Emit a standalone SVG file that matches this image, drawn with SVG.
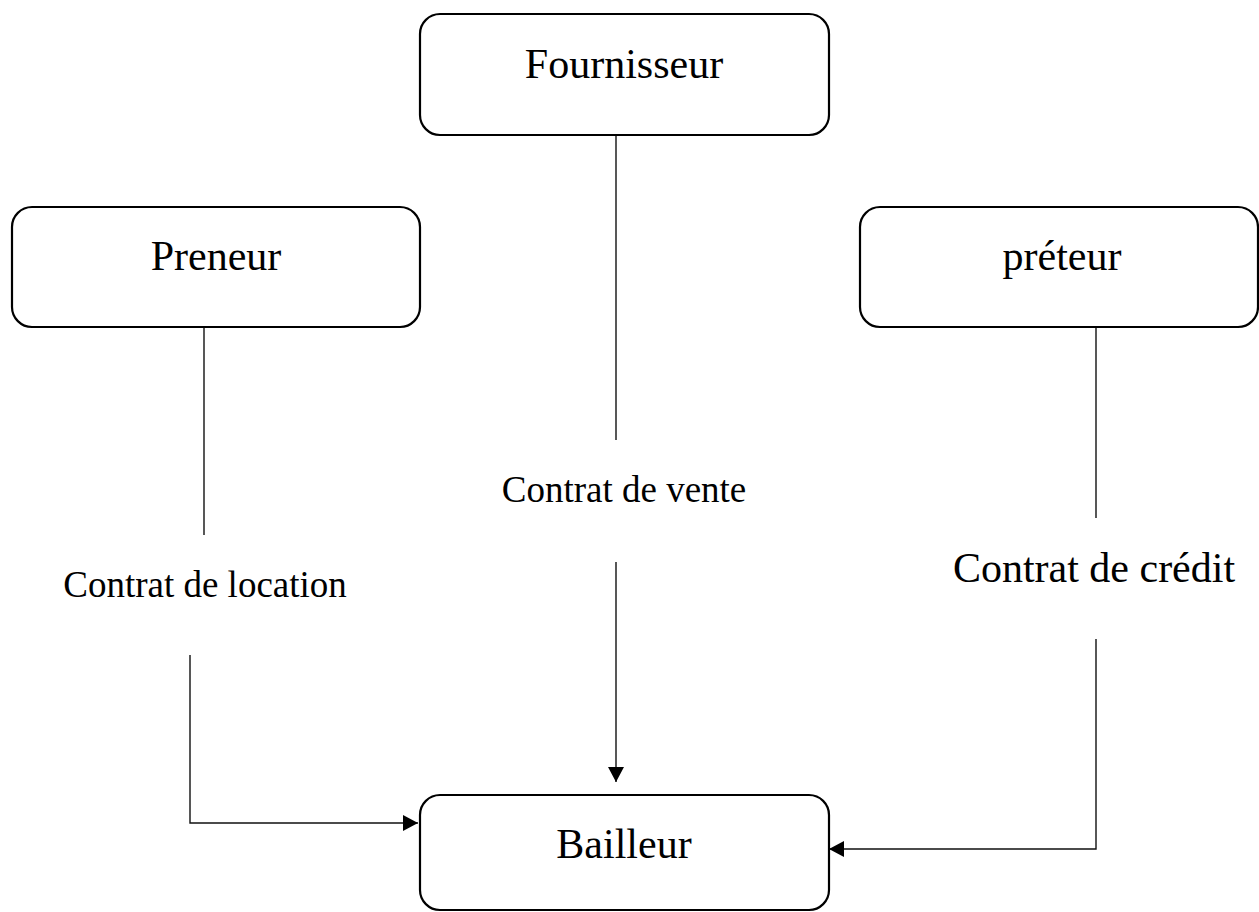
<svg xmlns="http://www.w3.org/2000/svg" width="1259" height="912" viewBox="0 0 1259 912">
  <style>
    .box { fill: #ffffff; stroke: #000000; stroke-width: 2.2; }
    .lbl { font-family: "Liberation Serif", "Times New Roman", serif; fill: #000000; text-anchor: middle; }
    .big { font-size: 42px; }
    .small { font-size: 37px; }
    .wire { fill: none; stroke: #111111; stroke-width: 1.4; }
  </style>
  <defs>
    <marker id="arrow" markerUnits="userSpaceOnUse" markerWidth="16" markerHeight="16" refX="15" refY="8" orient="auto">
      <path d="M0,0 L15,8 L0,16 Z" fill="#000000"/>
    </marker>
  </defs>

  <rect width="1259" height="912" fill="#ffffff"/>

  <!-- connectors -->
  <g id="connectors">
    <line class="wire" x1="616" y1="135" x2="616" y2="440"/>
    <line class="wire" x1="616" y1="562" x2="616" y2="782" marker-end="url(#arrow)"/>
    <line class="wire" x1="204" y1="327" x2="204" y2="535"/>
    <polyline class="wire" points="190,655 190,823 418,823" marker-end="url(#arrow)"/>
    <line class="wire" x1="1096" y1="327" x2="1096" y2="518"/>
    <polyline class="wire" points="1096,639 1096,849 829,849" marker-end="url(#arrow)"/>
  </g>

  <!-- connector labels -->
  <g id="labels">
    <text class="lbl small" x="624" y="502">Contrat de vente</text>
    <text class="lbl small" x="205" y="597">Contrat de location</text>
    <text class="lbl big" x="1094" y="582">Contrat de crédit</text>
  </g>

  <g id="fournisseur">
    <rect class="box" x="420" y="14" width="409" height="121" rx="20" ry="20"/>
    <text class="lbl big" x="624" y="78">Fournisseur</text>
  </g>

  <g id="preneur">
    <rect class="box" x="12" y="207" width="408" height="120" rx="20" ry="20"/>
    <text class="lbl big" x="216" y="270">Preneur</text>
  </g>

  <g id="preteur">
    <rect class="box" x="860" y="207" width="398" height="120" rx="20" ry="20"/>
    <text class="lbl big" x="1062" y="270">préteur</text>
  </g>

  <g id="bailleur">
    <rect class="box" x="420" y="795" width="409" height="115" rx="20" ry="20"/>
    <text class="lbl big" x="624" y="858">Bailleur</text>
  </g>
</svg>
